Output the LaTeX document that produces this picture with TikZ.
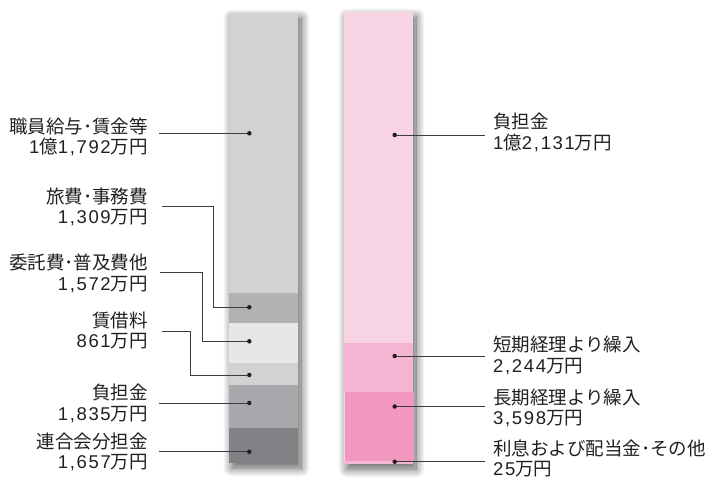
\documentclass[tikz,border=0pt]{standalone}
\usepackage{fontspec}
\setmainfont{Liberation Sans}[LetterSpace=9]
\newfontfamily\jpf{Noto Sans CJK JP}
\newcommand\J[1]{{\jpf #1}}
\usetikzlibrary{shadows.blur}
\definecolor{txt}{HTML}{231F20}
\definecolor{lin}{HTML}{3C3C3E}
\definecolor{gA}{HTML}{D1D2D4}
\definecolor{gB}{HTML}{B1B2B4}
\definecolor{gC}{HTML}{E6E7E8}
\definecolor{gD}{HTML}{D1D2D4}
\definecolor{gE}{HTML}{A7A9AC}
\definecolor{gF}{HTML}{808285}
\definecolor{pA}{HTML}{F8D3E4}
\definecolor{pB}{HTML}{F4B5D3}
\definecolor{pC}{HTML}{F298C0}
\definecolor{pD}{HTML}{F5B6D2}
\tikzset{
  lbl/.style={inner sep=0pt, text=txt, font=\fontsize{18.5}{20.5}\selectfont},
  lblL/.style={lbl, anchor=east, align=right},
  lblR/.style={lbl, anchor=west, align=left},
  dot/.style={circle, fill=txt, inner sep=0pt, minimum size=4.5pt},
  conn/.style={draw=lin, line width=0.9pt},
  barshadow/.style={blur shadow={shadow xshift=3pt, shadow yshift=-5pt, shadow blur steps=20, shadow blur radius=9pt, shadow opacity=65}}
}
\begin{document}
\begin{tikzpicture}[x=1pt,y=-1pt]
\useasboundingbox (0,0) rectangle (724,479);
% left bar
\path[barshadow, fill=gA] (229,13) rectangle (298,463);
\fill[gA] (229,13) rectangle (298,293);
\fill[gB] (229,293) rectangle (298,323);
\fill[gC] (229,323) rectangle (298,363);
\fill[gD] (229,363) rectangle (298,385);
\fill[gE] (229,385) rectangle (298,428);
\fill[gF] (229,428) rectangle (298,463);
% right bar
\path[barshadow, fill=pA] (344,12) rectangle (413,464);
\fill[pA] (344,12) rectangle (413,343);
\fill[pB] (344,343) rectangle (413,392);
\fill[pC] (345,392) rectangle (414,461);
\fill[pD] (344,461) rectangle (413,464);
% dots
\node[dot] (d1) at (249.3,133.3) {};
\node[dot] (d2) at (249.3,307.3) {};
\node[dot] (d3) at (249.3,341.3) {};
\node[dot] (d4) at (249.3,375) {};
\node[dot] (d5) at (249.3,403) {};
\node[dot] (d6) at (249.3,451.7) {};
\node[dot] (r1) at (394.7,135) {};
\node[dot] (r2) at (394.7,356) {};
\node[dot] (r3) at (394.7,406.5) {};
\node[dot] (r4) at (394.7,461.7) {};
% left labels
\node[lblL] (L1) at (148,136.7) {\J{職員給与･賃金等}\\1\J{億}1,792\J{万円}};
\node[lblL] (L2) at (148,206.7) {\J{旅費･事務費}\\1,309\J{万円}};
\node[lblL] (L3) at (148,273.2) {\J{委託費･普及費他}\\1,572\J{万円}};
\node[lblL] (L4) at (148,330.5) {\J{賃借料}\\861\J{万円}};
\node[lblL] (L5) at (148,403.3) {\J{負担金}\\1,835\J{万円}};
\node[lblL] (L6) at (148,452) {\J{連合会分担金}\\1,657\J{万円}};
% right labels
\node[lblR] (R1) at (493,132.5) {\J{負担金}\\1\J{億}2,131\J{万円}};
\node[lblR] (R2) at (493,355.3) {\J{短期経理より繰入}\\2,244\J{万円}};
\node[lblR] (R3) at (493,408) {\J{長期経理より繰入}\\3,598\J{万円}};
\node[lblR] (R4) at (493,458.5) {\J{利息および配当金･その他}\\25\J{万円}};
% elbow coordinates
\coordinate (e2) at (213.3,307.3);
\coordinate (e3) at (202.7,341.3);
\coordinate (e4) at (190,375);
\coordinate (s2) at (162,206);
\coordinate (s3) at (160,272.7);
\coordinate (s4) at (162,331);
% connectors
\draw[conn] (d1 -| L1.east) ++(11,0) -- (d1);
\draw[conn] (s2) -| (e2) -- (d2);
\draw[conn] (s3) -| (e3) -- (d3);
\draw[conn] (s4) -| (e4) -- (d4);
\draw[conn] (d5 -| L5.east) ++(11,0) -- (d5);
\draw[conn] (d6 -| L6.east) ++(11,0) -- (d6);
\draw[conn] (r1) -- ([xshift=-8pt]r1 -| R1.west);
\draw[conn] (r2) -- ([xshift=-8pt]r2 -| R2.west);
\draw[conn] (r3) -- ([xshift=-8pt]r3 -| R3.west);
\draw[conn] (r4) -- ([xshift=-8pt]r4 -| R4.west);
\end{tikzpicture}
\end{document}
